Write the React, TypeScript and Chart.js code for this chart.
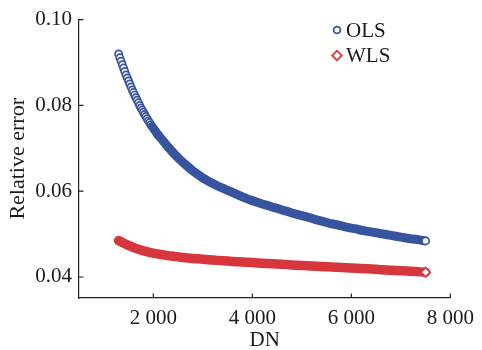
import React, { useEffect, useRef } from "react";
import { Chart, registerables } from "chart.js";

Chart.register(...registerables);

// DN values (x)
const DN = [
  1300, 1325, 1350, 1375, 1400, 1425, 1450, 1475, 1500, 1525, 1550, 1575, 1600, 1625, 1650, 1675,
  1700, 1725, 1750, 1775, 1800, 1825, 1850, 1875, 1900, 1925, 1950, 1975, 2000, 2025, 2050, 2075, 2100,
  2200, 2300, 2400, 2500, 2600, 2700, 2800, 2900, 3000, 3100, 3200, 3300, 3400, 3500, 3600, 3700, 3800,
  3900, 4000, 4100, 4200, 4300, 4400, 4500, 4600, 4700, 4800, 4900, 5000, 5100, 5200, 5300, 5400, 5500,
  5600, 5700, 5800, 5900, 6000, 6100, 6200, 6300, 6400, 6500, 6600, 6700, 6800, 6900, 7000, 7100, 7200,
  7300, 7400, 7500,
];

// Relative error, OLS
const OLS = [
  0.092, 0.0911, 0.0903, 0.0895, 0.0887, 0.0879, 0.0871, 0.0864, 0.0857, 0.085, 0.0843, 0.0836, 0.083,
  0.0824, 0.0818, 0.0812, 0.0806, 0.08, 0.0794, 0.0789, 0.0784, 0.0779, 0.0774, 0.0769, 0.0764, 0.076,
  0.0755, 0.0751, 0.0747, 0.0743, 0.0739, 0.0735, 0.0731,
  0.0717, 0.0703, 0.069, 0.0678, 0.0667, 0.0657, 0.0647, 0.0639, 0.0631, 0.0624, 0.0618, 0.0612, 0.0607,
  0.0602, 0.0597, 0.0592, 0.0587, 0.0582, 0.0578, 0.0574, 0.057, 0.0567, 0.0563, 0.056, 0.0556, 0.0553,
  0.0549, 0.0546, 0.0543, 0.054, 0.0537, 0.0533, 0.053, 0.0527, 0.0524, 0.0522, 0.0519, 0.0516, 0.0514,
  0.0512, 0.0509, 0.0507, 0.0505, 0.0503, 0.0501, 0.0499, 0.0497, 0.0495, 0.0493, 0.0491, 0.0489, 0.0488,
  0.0486, 0.0484,
];

// Relative error, WLS
const WLS = [
  0.0485, 0.04835, 0.0482, 0.04805, 0.0479, 0.04776, 0.04762, 0.04748, 0.04735, 0.04723, 0.04711, 0.04699,
  0.04688, 0.04677, 0.04667, 0.04657, 0.04647, 0.04638, 0.04629, 0.0462, 0.04612, 0.04604, 0.04596,
  0.04589, 0.04582, 0.04575, 0.04568, 0.04562, 0.04556, 0.0455, 0.04544, 0.04539, 0.04535,
  0.04515, 0.04497, 0.04482, 0.04468, 0.04456, 0.04444, 0.04433, 0.04423, 0.04413, 0.04404, 0.04395,
  0.04387, 0.04379, 0.04371, 0.04363, 0.04356, 0.04349, 0.04342, 0.04335, 0.04328, 0.04321, 0.04314,
  0.04308, 0.04301, 0.04295, 0.04288, 0.04282, 0.04276, 0.0427, 0.04264, 0.04258, 0.04252, 0.04246,
  0.0424, 0.04234, 0.04229, 0.04223, 0.04217, 0.0421, 0.04204, 0.04197, 0.04191, 0.04184, 0.04178,
  0.04171, 0.04165, 0.04158, 0.04152, 0.04145, 0.04139, 0.04132, 0.04126, 0.04119, 0.04113,
];

const SERIES_NAMES = ["OLS", "WLS"];
const X_TICKS = [2000, 4000, 6000, 8000];
const X_TICK_LABELS = ["2 000", "4 000", "6 000", "8 000"];
const Y_TICKS = [0.04, 0.06, 0.08, 0.1];
const Y_TICK_LABELS = ["0.04", "0.06", "0.08", "0.10"];
const X_TITLE = "DN";
const Y_TITLE = "Relative error";

const FONT = '"Liberation Serif", "Times New Roman", serif';
const BLUE = "#38549f";
const RED = "#d7363d";
const RING_COUNT = 33;
const HOLLOW_COUNT = 27;

const innerTicks = {
  id: "innerTicks",
  afterDraw(chart: any) {
    const { ctx, chartArea } = chart;
    const xs = chart.scales.x;
    const ys = chart.scales.y;
    ctx.save();
    ctx.strokeStyle = "#222";
    ctx.lineWidth = 1.2;
    ctx.beginPath();
    X_TICKS.forEach((v) => {
      const px = xs.getPixelForValue(v);
      ctx.moveTo(px, chartArea.bottom);
      ctx.lineTo(px, chartArea.bottom - 4.5);
    });
    Y_TICKS.forEach((v) => {
      const py = ys.getPixelForValue(v);
      ctx.moveTo(chartArea.left, py);
      ctx.lineTo(chartArea.left + 4.5, py);
    });
    ctx.stroke();
    ctx.restore();
  },
};

const customLegend = {
  id: "customLegend",
  afterDraw(chart: any) {
    const { ctx } = chart;
    ctx.save();
    ctx.font = `21px ${FONT}`;
    ctx.textBaseline = "middle";
    ctx.textAlign = "left";
    chart.data.datasets.forEach((ds: any, i: number) => {
      const cx = 337;
      const cy = 30 + i * 25.5;
      ctx.lineWidth = 1.8;
      ctx.strokeStyle = ds.borderColor;
      ctx.fillStyle = "#fff";
      ctx.beginPath();
      if (i === 0) {
        ctx.arc(cx, cy, 3.4, 0, Math.PI * 2);
      } else {
        const r = 4.8;
        ctx.moveTo(cx, cy - r);
        ctx.lineTo(cx + r, cy);
        ctx.lineTo(cx, cy + r);
        ctx.lineTo(cx - r, cy);
        ctx.closePath();
      }
      ctx.fill();
      ctx.stroke();
      ctx.fillStyle = "#1a1a1a";
      ctx.fillText(ds.label, 346, cy + 1);
    });
    ctx.restore();
  },
};

export default function App() {
  const canvasRef = useRef<HTMLCanvasElement | null>(null);

  useEffect(() => {
    document.body.style.margin = "0";
    const canvas = canvasRef.current;
    if (!canvas) return;
    const last = DN.length - 1;
    const isRing = (i: number) => i < RING_COUNT || i === last;
    const isHollow = (i: number) => i < HOLLOW_COUNT || i === last;
    const chart = new Chart(canvas, {
      type: "scatter",
      data: {
        datasets: [
          {
            label: SERIES_NAMES[0],
            data: DN.map((x, i) => ({ x, y: OLS[i] })),
            showLine: true,
            borderColor: BLUE,
            borderWidth: 9,
            backgroundColor: "#fff",
            pointBorderColor: BLUE,
            pointBackgroundColor: (c: any) => (isHollow(c.dataIndex) ? "#fff" : BLUE),
            pointBorderWidth: 1.7,
            pointRadius: (c: any) => (isRing(c.dataIndex) ? 3.6 : 0),
            pointHoverRadius: 0,
            segment: {
              borderColor: (c: any) => (c.p0DataIndex < RING_COUNT - 2 ? "rgba(0,0,0,0)" : BLUE),
            },
            tension: 0,
            order: 2,
          },
          {
            label: SERIES_NAMES[1],
            data: DN.map((x, i) => ({ x, y: WLS[i] })),
            showLine: true,
            borderColor: RED,
            borderWidth: 9.5,
            borderCapStyle: "round",
            backgroundColor: "#fff",
            pointStyle: "rectRot",
            pointBorderColor: RED,
            pointBackgroundColor: "#fff",
            pointBorderWidth: 1.7,
            pointRadius: (c: any) => (c.dataIndex === last ? 4.6 : 0),
            pointHoverRadius: 0,
            tension: 0,
            order: 1,
          },
        ],
      },
      options: {
        responsive: false,
        animation: false,
        layout: { padding: { top: 19, right: 25, left: 0, bottom: 0 } },
        plugins: {
          legend: { display: false },
          tooltip: { enabled: false },
        },
        scales: {
          x: {
            type: "linear",
            min: 500,
            max: 8000,
            afterFit: (s: any) => {
              s.height = 52;
            },
            afterBuildTicks: (s: any) => {
              s.ticks = X_TICKS.map((v) => ({ value: v }));
            },
            grid: { display: true, drawOnChartArea: false, drawTicks: false },
            border: { display: true, color: "#222", width: 1.2 },
            ticks: {
              padding: 8,
              color: "#1a1a1a",
              font: { family: FONT, size: 21 },
              maxRotation: 0,
              callback: (v: any) => {
                const i = X_TICKS.indexOf(Number(v));
                return i >= 0 ? X_TICK_LABELS[i] : "";
              },
            },
            title: {
              display: true,
              text: X_TITLE,
              color: "#1a1a1a",
              font: { family: FONT, size: 21, lineHeight: 1.2 },
              padding: { top: 0, bottom: -3 },
            },
          },
          y: {
            type: "linear",
            min: 0.0351,
            max: 0.1,
            afterFit: (s: any) => {
              s.width = 79;
            },
            afterBuildTicks: (s: any) => {
              s.ticks = Y_TICKS.map((v) => ({ value: v }));
            },
            grid: { display: true, drawOnChartArea: false, drawTicks: false },
            border: { display: true, color: "#222", width: 1.2 },
            ticks: {
              padding: 7,
              color: "#1a1a1a",
              font: { family: FONT, size: 21 },
              callback: (v: any) => {
                const i = Y_TICKS.findIndex((t) => Math.abs(t - Number(v)) < 1e-9);
                return i >= 0 ? Y_TICK_LABELS[i] : "";
              },
            },
            title: {
              display: true,
              text: Y_TITLE,
              color: "#1a1a1a",
              font: { family: FONT, size: 22, lineHeight: 1.2 },
              padding: { top: 5, bottom: 0 },
            },
          },
        },
      },
      plugins: [innerTicks, customLegend],
    });
    return () => chart.destroy();
  }, []);

  return (
    <div style={{ width: 482, height: 350, background: "#fff" }}>
      <canvas ref={canvasRef} width={482} height={350} style={{ display: "block" }} />
    </div>
  );
}
